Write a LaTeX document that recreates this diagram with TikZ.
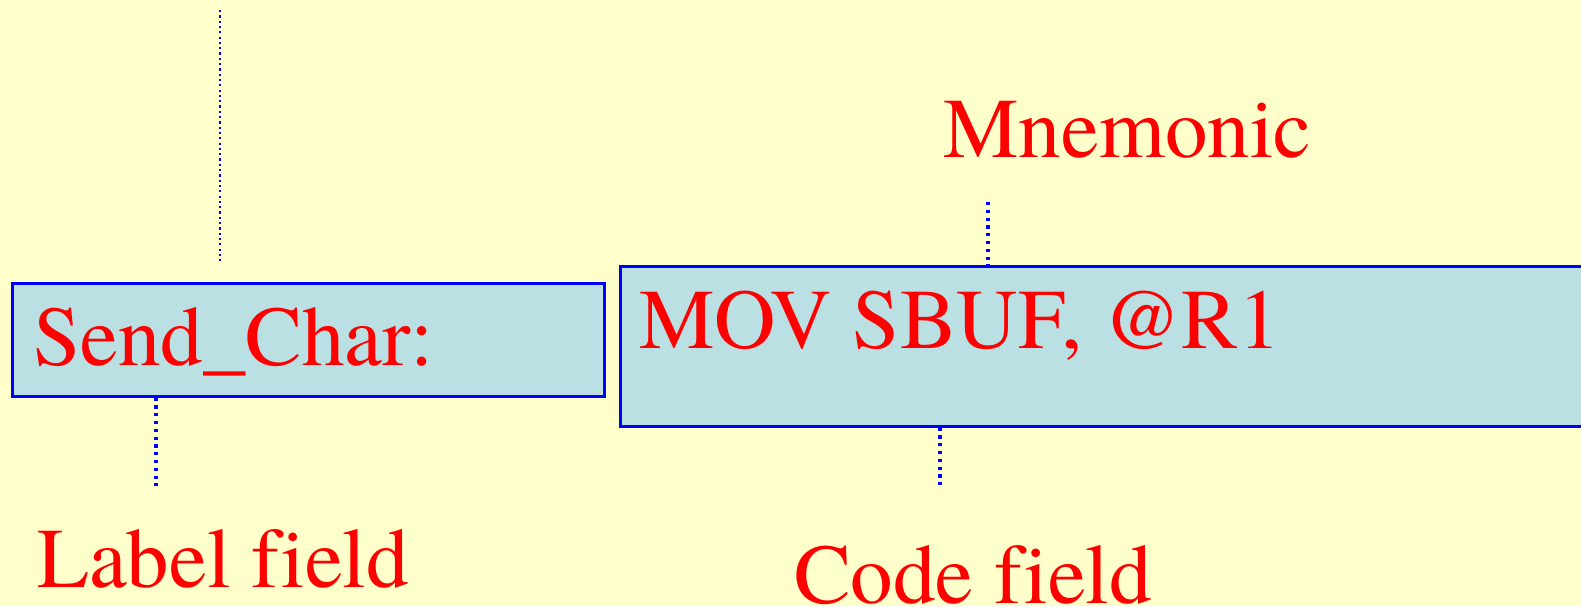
\documentclass[tikz,border=0pt]{standalone}
\usepackage{fontspec}
\newfontfamily\romanface[Ligatures={NoCommon}]{TeX Gyre Termes}
\definecolor{paper}{HTML}{FFFFCC}
\definecolor{boxfill}{HTML}{BBE0E3}
\definecolor{edge}{HTML}{0000FF}
\definecolor{ink}{HTML}{FF0000}
\tikzset{
  field/.style={draw=edge, fill=boxfill, line width=2.5pt, inner sep=0pt, anchor=north west},
  word/.style={text=ink, inner sep=0pt, anchor=base west, font=\romanface\fontsize{85}{90}\selectfont},
  fineleader/.style={draw=edge, line width=2.2pt, dash pattern=on 2.2pt off 3.1pt},
  leader/.style={draw=edge, line width=3.2pt, dash pattern=on 3.2pt off 4.6pt},
}
\begin{document}
\begin{tikzpicture}[x=1pt, y=-1pt]
  % page and background
  \fill[paper] (0,0) rectangle (1581,606);
  \clip (0,0) rectangle (1581,606);

  % the two fields of the instruction line
  \node[field, minimum width=592pt, minimum height=113pt] (lbox) at (11,282) {};
  \node[field, minimum width=1000pt, minimum height=160pt] (cbox) at (619,265) {};
  \node[word] (ltext) at (33,365) {Send\_Char:};
  \node[word] (ctext) at (639,348) {MOV SBUF, @R1};

  % captions
  \node[word] (mnem) at (943,157) {Mnemonic};
  \node[word] (lcap) at (37,587) {Label field};
  \node[word] (ccap) at (794,603) {Code field};

  % leader ends
  \coordinate (topA) at (220,10);
  \coordinate (topB) at (220,262);
  \coordinate (lfoot) at (156,486);
  \coordinate (cfoot) at (940,486);
  \coordinate (mfoot) at (988,202);

  % dotted leaders
  \draw[fineleader] (topA) -- (topB);
  \draw[leader] (lbox.south west -| lfoot) -- (lfoot);
  \draw[leader] (cbox.south west -| cfoot) -- (cfoot);
  \draw[leader] (mfoot) -- (cbox.north west -| mfoot);
\end{tikzpicture}
\end{document}
